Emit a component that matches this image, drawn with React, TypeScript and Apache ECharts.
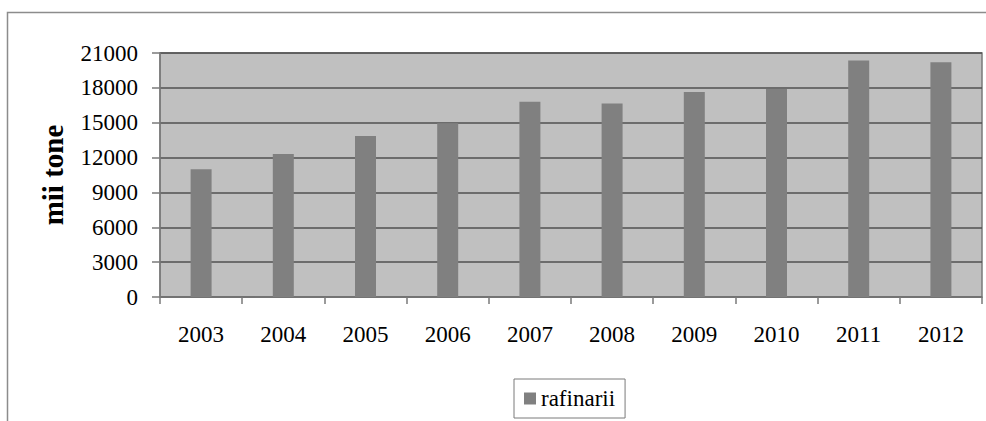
import React, { useEffect, useRef } from "react";
import * as echarts from "echarts";

const categories = ["2003", "2004", "2005", "2006", "2007", "2008", "2009", "2010", "2011", "2012"];
const rafinarii = [11000, 12300, 13850, 14950, 16800, 16650, 17650, 17900, 20350, 20200];
const seriesName = "rafinarii";
const yAxisTitle = "mii tone";

const FONT = "'Liberation Serif', 'Times New Roman', serif";

export default function App() {
  const ref = useRef<HTMLDivElement>(null);
  useEffect(() => {
    if (!ref.current) return;
    const chart = echarts.init(ref.current, undefined, { renderer: "svg" });
    chart.setOption({
      animation: false,
      backgroundColor: "#ffffff",
      textStyle: { fontFamily: FONT, color: "#000" },
      graphic: [
        {
          type: "rect",
          shape: { x: 7.5, y: 12.5, width: 1200, height: 600 },
          style: { fill: "none", stroke: "#8c8c8c", lineWidth: 1.5 },
          silent: true,
          z: -1,
        },
      ],
      grid: {
        left: 160,
        top: 53,
        right: 4,
        bottom: 124,
        show: true,
        backgroundColor: "#c0c0c0",
        borderColor: "#7a7a7a",
        borderWidth: 1.5,
      },
      legend: {
        data: [seriesName],
        left: 514,
        top: 379,
        padding: [8, 10],
        itemWidth: 12,
        itemHeight: 12,
        itemGap: 0,
        icon: "rect",
        borderColor: "#7a7a7a",
        borderWidth: 1,
        backgroundColor: "#fff",
        textStyle: { fontFamily: FONT, fontSize: 23, color: "#000" },
      },
      xAxis: {
        type: "category",
        data: categories,
        boundaryGap: true,
        axisLine: { show: true, lineStyle: { color: "#7a7a7a", width: 1.5 } },
        axisTick: { show: true, length: 7, alignWithLabel: false, lineStyle: { color: "#7a7a7a", width: 1.5 } },
        axisLabel: { margin: 26, fontFamily: FONT, fontSize: 23, color: "#000" },
        splitLine: { show: false },
      },
      yAxis: {
        type: "value",
        min: 0,
        max: 21000,
        interval: 3000,
        name: yAxisTitle,
        nameLocation: "middle",
        nameGap: 93,
        nameRotate: 90,
        nameTextStyle: { fontFamily: FONT, fontSize: 29, fontWeight: "bold", color: "#000" },
        axisLine: { show: true, lineStyle: { color: "#7a7a7a", width: 1.5 } },
        axisTick: { show: true, length: 8, lineStyle: { color: "#7a7a7a", width: 1.5 } },
        axisLabel: {
          margin: 22,
          fontFamily: FONT,
          fontSize: 23,
          color: "#000",
          formatter: (v: number) => String(v),
        },
        splitLine: { show: true, lineStyle: { color: "#505050", width: 1.5 } },
      },
      series: [
        {
          name: seriesName,
          type: "bar",
          data: rafinarii,
          barWidth: 21,
          itemStyle: { color: "#808080" },
        },
      ],
    });
    return () => chart.dispose();
  }, []);
  return (
    <div
      ref={ref}
      style={{ position: "fixed", left: 0, top: 0, width: 986, height: 421 }}
    />
  );
}
